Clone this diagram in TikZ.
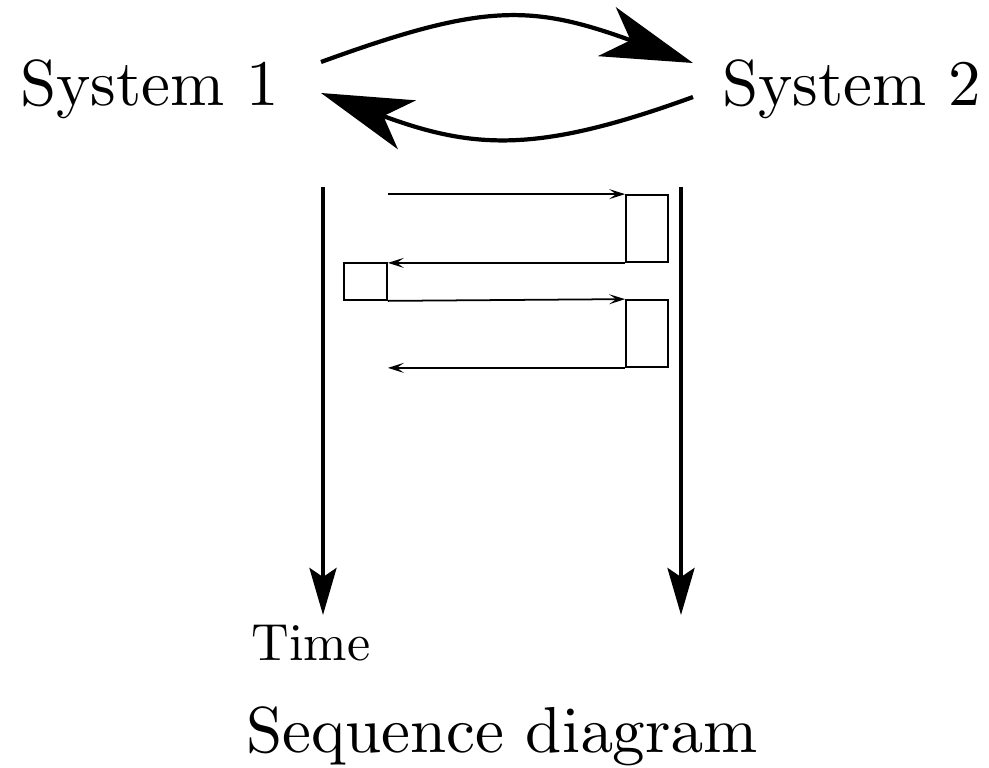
\documentclass[tikz,border=0pt]{standalone}
\usetikzlibrary{arrows.meta}
% Computer Modern at its 10pt design size, scaled up
\font\bigcm=cmr10 at 37pt
\font\midcm=cmr10 at 29.7pt
\begin{document}
\begin{tikzpicture}[x=0.02cm, y=-0.02cm,
  bigtext/.style={font=\bigcm, inner sep=0pt},
  midtext/.style={font=\midcm, inner sep=0pt},
  exchange/.style={line width=2.4pt, -{Stealth[length=1.83cm, width=1.04cm, inset=0.5cm]}},
  lifeline/.style={line width=2.4pt, -{Stealth[length=0.94cm, width=0.54cm, inset=0.18cm]}},
  msg/.style={line width=1pt, -{Stealth[length=0.32cm, width=0.2cm, inset=0.14cm]}},
  actbox/.style={draw, line width=1pt, inner sep=0pt, minimum width=0.84cm}]
  \useasboundingbox (0,0) rectangle (989,767);

  % systems
  \node[bigtext, anchor=base] (s1) at (149.5,105) {System 1};
  \node[bigtext, anchor=base] (s2) at (851.5,105) {System 2};

  % ends of the two exchange arrows
  \coordinate (outA) at (321,62);
  \coordinate (inA)  at (693,63);
  \coordinate (outB) at (693,97);
  \coordinate (inB)  at (321,93);
  \draw[exchange] (outA) .. controls (483,3) and (531,4) .. (inA);
  \draw[exchange] (outB) .. controls (539,153) and (475,150) .. (inB);

  % lifelines
  \coordinate (l1top) at (323,187);
  \coordinate (l1end) at (323,615);
  \coordinate (l2top) at (681,187);
  \coordinate (l2end) at (681,615);
  \draw[lifeline] (l1top) -- (l1end);
  \draw[lifeline] (l2top) -- (l2end);

  % activation boxes
  \node[actbox, minimum height=1.34cm] (b1) at (647,228.5) {};
  \node[actbox, minimum width=0.86cm, minimum height=0.74cm] (b2) at (365.5,281.5) {};
  \node[actbox, minimum height=1.34cm] (b3) at (647,333.5) {};

  % messages
  \draw[msg] (b1.north west -| b2.east) -- (b1.north west);
  \draw[msg] (b1.south west) -- (b1.south west -| b2.east);
  \draw[msg] (b2.south east) -- (b3.north west);
  \draw[msg] (b3.south west) -- (b3.south west -| b2.east);

  % labels
  \node[midtext, anchor=base] (time) at (311,660) {Time};
  \node[bigtext, anchor=base] (title) at (502,752) {Sequence diagram};
\end{tikzpicture}
\end{document}
